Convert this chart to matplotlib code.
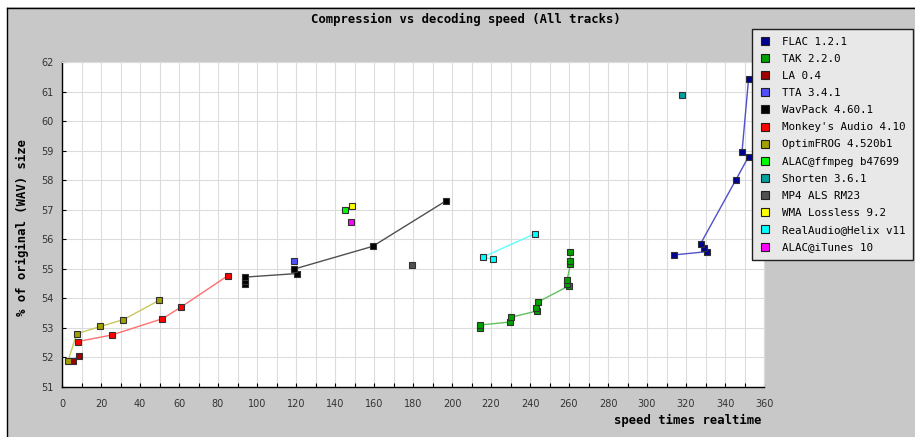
import matplotlib
matplotlib.use("Agg")
import matplotlib.pyplot as plt
from matplotlib.lines import Line2D
from matplotlib.patches import Rectangle
from matplotlib.ticker import MultipleLocator

# speed (x realtime) vs size (% of wav)
flac_x = [313.8, 330.6, 329.2, 327.5, 345.4, 352.1, 348.7, 352.1]
flac_y = [55.47, 55.58, 55.70, 55.85, 57.99, 58.80, 58.94, 61.44]
tak_x = [214.4, 214.6, 229.9, 230.2, 243.4, 242.9, 243.9, 259.8, 259.0, 259.0, 260.7, 260.7, 260.7]
tak_y = [52.99, 53.10, 53.20, 53.36, 53.57, 53.69, 53.87, 54.42, 54.50, 54.61, 55.15, 55.25, 55.57]
la_x = [5.4, 8.5]
la_y = [51.87, 52.06]
tta_x = [119.0]
tta_y = [55.28]
wavpack_x = [94.0, 94.0, 94.0, 120.5, 119.0, 159.3, 196.9]
wavpack_y = [54.47, 54.58, 54.72, 54.84, 54.99, 55.76, 57.30]
monkey_x = [8.2, 25.5, 51.5, 60.9, 85.1]
monkey_y = [52.54, 52.76, 53.31, 53.70, 54.77]
ofr_x = [3.1, 7.5, 19.7, 31.5, 49.7]
ofr_y = [51.88, 52.80, 53.05, 53.28, 53.93]
alacff_x = [144.9]
alacff_y = [57.00]
shorten_x = [317.7]
shorten_y = [60.90]
als_x = [179.3]
als_y = [55.14]
wma_x = [148.9]
wma_y = [57.12]
real_x = [220.8, 215.9, 242.6]
real_y = [55.32, 55.40, 56.19]
itunes_x = [148.4]
itunes_y = [56.60]

names = ["FLAC 1.2.1", "TAK 2.2.0", "LA 0.4", "TTA 3.4.1", "WavPack 4.60.1",
         "Monkey's Audio 4.10", "OptimFROG 4.520b1", "ALAC@ffmpeg b47699",
         "Shorten 3.6.1", "MP4 ALS RM23", "WMA Lossless 9.2",
         "RealAudio@Helix v11", "ALAC@iTunes 10"]
colors = ["#000090", "#00a000", "#a00000", "#5050ff", "#000000", "#ff0000",
          "#a0a000", "#00ff00", "#00a0a0", "#505050", "#ffff00", "#00ffff", "#ff00ff"]
line_colors = ["#5050c8", "#60c060", "#c86060", None, "#505050", "#ff7070",
               "#c8c860", None, None, None, None, "#60ffff", None]
xs = [flac_x, tak_x, la_x, tta_x, wavpack_x, monkey_x, ofr_x, alacff_x,
      shorten_x, als_x, wma_x, real_x, itunes_x]
ys = [flac_y, tak_y, la_y, tta_y, wavpack_y, monkey_y, ofr_y, alacff_y,
      shorten_y, als_y, wma_y, real_y, itunes_y]

W, H = 915, 437
fig = plt.figure(figsize=(W / 100, H / 100), dpi=100, facecolor="white")

# grey panel with black top/left edge
fig.patches.append(Rectangle((7 / W, 0), 1, 1 - 7 / H, transform=fig.transFigure,
                             facecolor="#c8c8c8", edgecolor="none", zorder=-10))
fig.add_artist(Line2D([7 / W, 1], [1 - 7.5 / H, 1 - 7.5 / H], color="black", lw=1))
fig.add_artist(Line2D([7 / W, 7 / W], [0, 1 - 7.5 / H], color="black", lw=1))

ax = fig.add_axes([62 / W, 50 / H, 702 / W, 325 / H])
ax.set_facecolor("white")

for x, y, c, lc in zip(xs, ys, colors, line_colors):
    if lc is not None:
        ax.plot(x, y, color=lc, lw=1.0, zorder=2)
    ax.plot(x, y, ls="none", marker="s", ms=4.5, mfc=c, mec="#303030", mew=0.8, zorder=3)

ax.set_xlim(0, 360)
ax.set_ylim(51, 62)
ax.xaxis.set_major_locator(MultipleLocator(20))
ax.xaxis.set_minor_locator(MultipleLocator(10))
ax.yaxis.set_major_locator(MultipleLocator(1))
ax.grid(which="both", color="#dcdcdc", lw=0.8, zorder=0)
ax.set_axisbelow(True)
ax.tick_params(which="both", direction="in", length=3, width=0.8, color="black")
ax.tick_params(axis="x", which="major", pad=8.5, labelsize=7, labelcolor="#333333")
ax.tick_params(axis="y", pad=6, labelsize=7, labelcolor="#333333")
for s in ["top", "right"]:
    ax.spines[s].set_color("#dcdcdc")
for s in ["left", "bottom"]:
    ax.spines[s].set_color("black")
    ax.spines[s].set_linewidth(1)

mono = "DejaVu Sans Mono"
fig.text(466 / W, 1 - 19 / H, "Compression vs decoding speed (All tracks)",
         ha="center", va="center", family=mono, weight="bold", size=8.8)
fig.text(762 / W, 1 - 420 / H, "speed times realtime", ha="right", va="center",
         family=mono, weight="bold", size=8.8)
fig.text(22 / W, 1 - 227 / H, "% of original (WAV) size", ha="center", va="center",
         rotation=90, family=mono, weight="bold", size=8.8)

handles = [Line2D([], [], ls="none", marker="s", ms=6.3, mfc=c, mec="#202020", mew=0.8)
           for c in colors]
leg = fig.legend(handles, names, loc="upper left",
                 bbox_to_anchor=(752 / W, 1 - 29 / H), bbox_transform=fig.transFigure,
                 prop={"family": mono, "size": 7.8}, frameon=True, fancybox=False,
                 borderpad=0.7, handlelength=1.0, handletextpad=1.1,
                 labelspacing=0.66, borderaxespad=0)
fr = leg.get_frame()
fr.set_facecolor("#e8e8e8")
fr.set_edgecolor("#202020")
fr.set_linewidth(1)
fr.set_alpha(1)

fig.savefig("out.png", dpi=100, facecolor=fig.get_facecolor())
